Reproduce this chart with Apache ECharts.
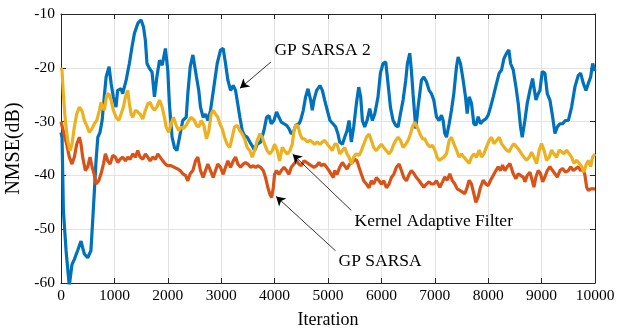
<!DOCTYPE html>
<html>
<head>
<meta charset="utf-8">
<script src="https://cdn.jsdelivr.net/npm/echarts@6/dist/echarts.min.js"></script>
<style>
  html, body { margin: 0; padding: 0; background: #fff; }
  #main { width: 627px; height: 329px; }
</style>
</head>
<body>
<div id="main"></div>
<script>
// values: [iteration, NMSE in dB]
var gpSarsa2 = [[0,-32],[20,-33],[45,-46.6],[95,-54],[155,-60.5],[205,-56.6],[250,-55.6],[310,-54],[375,-52.2],[405,-53.4],[437,-54.6],[500,-55.3],[560,-54],[590,-49],[625,-42.9],[656,-37.3],[690,-32.9],[730,-32],[770,-29.8],[810,-25.4],[845,-21.7],[900,-19.8],[940,-23],[980,-25.4],[1030,-27.3],[1060,-24.2],[1125,-23.9],[1155,-24.8],[1220,-22.3],[1280,-19.2],[1330,-16.1],[1375,-13.6],[1440,-11.7],[1500,-11.1],[1545,-12.4],[1580,-14.9],[1610,-19.2],[1655,-20.1],[1705,-20.8],[1750,-25.4],[1795,-21.7],[1845,-18.6],[1895,-19.5],[1955,-16.4],[2000,-20.5],[2030,-26.7],[2080,-32.9],[2125,-34.8],[2170,-35.4],[2220,-32.9],[2280,-29.8],[2345,-29.2],[2375,-24.8],[2420,-19.8],[2470,-17.6],[2537,-21.7],[2580,-24.2],[2612,-27.3],[2662,-29.2],[2706,-28.6],[2750,-29.8],[2800,-27.9],[2862,-23.6],[2925,-19.2],[2987,-16.7],[3037,-16.4],[3081,-19.2],[3125,-22.3],[3175,-24.2],[3225,-23.3],[3269,-24.2],[3300,-23.9],[3350,-29.2],[3394,-31.7],[3437,-32.6],[3487,-32.9],[3537,-33.8],[3581,-34.5],[3625,-35.4],[3675,-34.2],[3737,-33.8],[3800,-31.7],[3850,-29.2],[3894,-28.9],[3937,-30.4],[3987,-29.8],[4037,-28.2],[4081,-29.2],[4125,-30.1],[4175,-30.4],[4225,-30.7],[4269,-31.3],[4312,-32.3],[4362,-31.7],[4394,-30.7],[4456,-30.4],[4487,-29.8],[4537,-27.9],[4581,-25.4],[4625,-23.9],[4675,-26],[4706,-27.9],[4737,-26],[4787,-24.2],[4850,-23.3],[4894,-24.2],[4937,-26],[4987,-27.9],[5037,-29.8],[5094,-30.4],[5144,-31],[5187,-32.3],[5219,-33.8],[5270,-34.2],[5312,-32.9],[5356,-31.7],[5394,-29.8],[5437,-33.8],[5481,-31],[5531,-26.7],[5575,-23.6],[5612,-25.4],[5644,-29.8],[5687,-31],[5731,-29.8],[5781,-27.6],[5831,-29.8],[5875,-28.6],[5937,-25.4],[5981,-21],[6031,-19.2],[6081,-18.9],[6125,-23],[6169,-27.3],[6219,-29.8],[6269,-30.7],[6312,-31],[6356,-28.6],[6406,-26],[6456,-22.3],[6487,-19.2],[6531,-17.3],[6562,-20.5],[6594,-25],[6644,-31.3],[6687,-27.3],[6750,-22.3],[6794,-21.7],[6844,-22.6],[6894,-24.2],[6937,-24.8],[6981,-26],[7031,-29.1],[7081,-29.8],[7125,-28.8],[7156,-29.8],[7187,-32.2],[7219,-32.9],[7269,-30.4],[7312,-27.9],[7356,-24.8],[7406,-19.8],[7437,-18],[7481,-19.2],[7531,-22.3],[7575,-25.4],[7606,-28.5],[7644,-25.4],[7687,-26.6],[7731,-30.4],[7769,-30.7],[7812,-29.1],[7856,-30.4],[7906,-29.8],[7956,-29.5],[8000,-28.8],[8044,-27.3],[8094,-25.4],[8156,-22.9],[8206,-21],[8250,-20.4],[8294,-18.3],[8344,-17.3],[8387,-16.7],[8419,-19.2],[8469,-20.4],[8519,-23.5],[8562,-26.6],[8606,-31],[8637,-32.9],[8687,-29.8],[8731,-26.6],[8781,-24.2],[8831,-22],[8856,-22.3],[8894,-26],[8937,-24.8],[8969,-24.2],[9012,-20.7],[9062,-21],[9106,-24.8],[9156,-26],[9206,-29.1],[9250,-32.2],[9294,-31],[9344,-30.4],[9394,-30.4],[9444,-29.8],[9500,-29.8],[9562,-27.3],[9625,-23.5],[9687,-21.4],[9731,-21],[9781,-22.9],[9831,-24.2],[9875,-22.9],[9919,-21.7],[9956,-19.2],[10000,-20.6]];

var gpSarsa = [[0,-30],[19,-30.1],[56,-32.3],[106,-34.2],[156,-36.6],[206,-37.9],[250,-36.6],[294,-34.2],[344,-32.9],[375,-34.2],[406,-36.6],[456,-39.1],[500,-38.4],[544,-36.6],[581,-38.4],[619,-39.7],[656,-41.6],[706,-41],[750,-39.7],[794,-37.9],[831,-36],[875,-37.3],[919,-37.9],[969,-36.3],[1019,-36.6],[1062,-37.6],[1106,-37],[1156,-36.6],[1206,-37.3],[1250,-36.6],[1294,-37],[1344,-36],[1394,-36.6],[1437,-35.4],[1481,-36.6],[1531,-37],[1581,-36],[1625,-36.6],[1669,-37.3],[1719,-36.6],[1769,-37],[1812,-36],[1856,-36.6],[1906,-37.3],[1956,-37.9],[2000,-38.2],[2062,-38.2],[2125,-38.5],[2187,-38.8],[2231,-39.1],[2281,-39.7],[2331,-40],[2375,-41],[2419,-39.7],[2469,-39.1],[2519,-37.3],[2562,-36.6],[2612,-39.1],[2662,-40.4],[2706,-39.1],[2750,-37.9],[2800,-39.1],[2850,-40.4],[2894,-39.1],[2937,-37.9],[2987,-38.5],[3037,-39.8],[3081,-38.5],[3125,-37.3],[3175,-38.5],[3225,-37.3],[3269,-36.6],[3312,-37.9],[3362,-38.5],[3412,-37.9],[3456,-37.6],[3500,-37.9],[3550,-38.5],[3600,-38.2],[3644,-38.5],[3687,-38.2],[3737,-38.5],[3787,-39.1],[3831,-40.4],[3875,-42.3],[3912,-43.5],[3944,-44.1],[3975,-42.3],[4000,-39.8],[4037,-39.1],[4081,-39.8],[4125,-39.1],[4175,-38.5],[4225,-39.1],[4269,-39.8],[4312,-38.5],[4362,-37.9],[4412,-37.3],[4456,-37.9],[4500,-38.2],[4550,-37.3],[4600,-37.6],[4644,-37.9],[4687,-38.2],[4737,-38.5],[4787,-38.2],[4831,-37.6],[4875,-38.2],[4925,-37.9],[4975,-38.5],[5019,-39.1],[5062,-39.8],[5100,-40.4],[5125,-39.1],[5169,-39.8],[5219,-38.5],[5269,-37.6],[5312,-38.2],[5356,-38.8],[5406,-37.9],[5456,-37.6],[5500,-37],[5544,-37.3],[5581,-38.5],[5625,-39.8],[5669,-41],[5719,-41.6],[5769,-42.3],[5812,-41],[5856,-41.6],[5906,-40.4],[5956,-41],[6000,-41.6],[6044,-41],[6094,-42.3],[6144,-41.6],[6187,-40.4],[6231,-39.8],[6281,-38.5],[6331,-37.9],[6375,-39.1],[6419,-40.4],[6469,-41],[6519,-39.8],[6562,-39.1],[6606,-39.6],[6656,-40.4],[6706,-41],[6750,-41.6],[6794,-42.2],[6844,-41.6],[6894,-41.2],[6937,-41.6],[6981,-41.6],[7031,-41],[7094,-42.2],[7144,-41.2],[7187,-40.3],[7231,-40.9],[7281,-39.7],[7325,-40.9],[7375,-41.6],[7419,-42.5],[7469,-42.8],[7519,-43.1],[7562,-43.4],[7606,-42.2],[7644,-40.9],[7687,-41.6],[7731,-43.4],[7769,-45],[7812,-44],[7856,-42.2],[7906,-40.9],[7956,-41.6],[8000,-41.9],[8044,-40.9],[8094,-40],[8144,-39.1],[8187,-38.4],[8231,-39.1],[8269,-38.1],[8312,-39.1],[8356,-38.4],[8406,-37.8],[8437,-38.7],[8469,-39.7],[8519,-40.6],[8562,-39.7],[8606,-40],[8656,-40.3],[8687,-41.2],[8731,-40],[8781,-39.4],[8831,-41.2],[8856,-42.2],[8894,-40.3],[8937,-39.1],[8981,-39.7],[9019,-41.2],[9062,-40.3],[9106,-39.1],[9156,-38.4],[9206,-39.1],[9250,-39.7],[9294,-40.3],[9344,-39.1],[9394,-38.7],[9444,-39.4],[9500,-39.1],[9544,-38.4],[9594,-39.1],[9644,-38.7],[9687,-38.4],[9731,-39.1],[9781,-38.7],[9812,-40],[9844,-42.2],[9875,-42.8],[9919,-42.5],[9956,-42.2],[10000,-42.5]];

var kernelFilter = [[0,-20],[19,-20.5],[44,-24.8],[81,-29.8],[125,-33.5],[169,-35.4],[206,-34.2],[250,-31],[294,-28.6],[344,-27.3],[394,-28],[437,-29.8],[481,-30.7],[531,-32],[581,-31.3],[625,-30.4],[669,-29.8],[719,-27.9],[750,-26.4],[781,-27.3],[812,-27.9],[856,-25.1],[894,-24.8],[937,-26],[981,-27.9],[1031,-29.2],[1081,-29.8],[1125,-28.6],[1169,-27.3],[1206,-25.4],[1250,-24.2],[1281,-26.7],[1312,-28.6],[1344,-29.2],[1394,-27.9],[1437,-28.2],[1481,-28.6],[1531,-29.5],[1581,-27.9],[1625,-26.7],[1669,-26.4],[1706,-27.3],[1750,-27.9],[1794,-27.3],[1844,-26],[1894,-27.3],[1937,-29.2],[1969,-31],[2019,-32],[2062,-30.4],[2106,-29.2],[2156,-30.7],[2206,-31.7],[2250,-31],[2294,-31.3],[2344,-30.7],[2394,-29.8],[2437,-29.2],[2500,-29.8],[2537,-30.7],[2581,-31],[2625,-29.8],[2675,-30.7],[2725,-33.2],[2769,-31.7],[2812,-28.6],[2850,-27.9],[2894,-28.6],[2937,-29.2],[2975,-30.4],[3019,-31.3],[3062,-32.9],[3112,-34.2],[3162,-34.8],[3206,-32.9],[3250,-31],[3300,-30.7],[3350,-31.7],[3394,-32.3],[3437,-33.2],[3487,-34.8],[3537,-35.4],[3581,-36.6],[3625,-35.4],[3675,-33.5],[3725,-32.3],[3769,-32.9],[3812,-34.2],[3862,-35.4],[3912,-36],[3956,-35.4],[4000,-34.2],[4050,-35.4],[4094,-37.3],[4144,-34.8],[4187,-35.4],[4237,-36],[4287,-35.4],[4331,-34.2],[4362,-31.7],[4394,-30.7],[4437,-30.7],[4475,-32.3],[4519,-33.2],[4562,-33.2],[4612,-33.8],[4662,-33.5],[4706,-33.8],[4750,-34.2],[4800,-33.8],[4850,-34.2],[4894,-33.8],[4937,-33.5],[4987,-34.2],[5037,-34.8],[5081,-35.4],[5125,-34.2],[5169,-34.2],[5219,-36],[5269,-35.4],[5312,-34.8],[5356,-36],[5394,-36.6],[5437,-37.9],[5481,-36.6],[5531,-36],[5581,-36.3],[5625,-35.4],[5669,-34.2],[5719,-32.9],[5769,-32.3],[5812,-33.5],[5856,-34.8],[5906,-35.4],[5950,-34.8],[6000,-34.2],[6044,-34.8],[6094,-35.4],[6144,-36],[6187,-35.4],[6231,-34.2],[6269,-33.5],[6312,-32.9],[6356,-33.5],[6406,-34.8],[6456,-34.2],[6500,-33.5],[6544,-32.3],[6581,-31],[6625,-30.1],[6669,-31],[6719,-32.2],[6769,-33.2],[6812,-33.2],[6856,-34.1],[6906,-34.7],[6956,-34.4],[7000,-35.3],[7044,-36.6],[7081,-37.2],[7125,-36.9],[7169,-36.6],[7219,-36],[7269,-33.5],[7312,-32.9],[7356,-34.1],[7406,-35.3],[7456,-36.6],[7500,-36],[7544,-36.6],[7594,-37.2],[7644,-37.8],[7687,-36.6],[7731,-36],[7781,-36.6],[7831,-35.3],[7875,-36.6],[7919,-36],[7969,-34.7],[8019,-33.5],[8062,-32.9],[8106,-34.1],[8156,-33.5],[8206,-32.9],[8250,-34.1],[8294,-34.7],[8344,-35.3],[8394,-35.6],[8437,-34.7],[8481,-34.1],[8531,-34.7],[8581,-35.3],[8625,-36],[8669,-36.6],[8719,-37.2],[8769,-36.6],[8812,-35.7],[8856,-36.6],[8906,-37.8],[8956,-35.3],[9000,-34.1],[9044,-35.3],[9094,-37.2],[9144,-36.6],[9187,-35.3],[9231,-36],[9281,-36.6],[9331,-35.3],[9375,-35.6],[9419,-36],[9469,-35.3],[9519,-36],[9562,-36.6],[9606,-37.8],[9656,-37.2],[9706,-37.8],[9750,-38.4],[9794,-39.4],[9831,-38.1],[9875,-37.2],[9919,-38.4],[9956,-36.6],[10000,-36]];

// annotations: text, text anchor, arrow tail, arrow head (data coords)
var noteTexts = ['GP SARSA 2', 'Kernel Adaptive Filter', 'GP SARSA'];
var noteAt = [[3996,-16.7], [5497,-48.5], [5197,-56]];
var arrowFrom = [[3934,-18.9], [5435,-46.5], [5140,-54]];
var arrowTo = [[3352,-23.8], [4339,-36.05], [4028,-43.9]];

var font = 'Liberation Serif';
var axisColor = '#262626';
var gridColor = '#e3e3e3';
var lineW = 3.2;

var chart = echarts.init(document.getElementById('main'));

// top and right edges of the box, ticks only
function boxAxis(extra) {
    return Object.assign({
        type: 'value',
        axisLine: { show: true, onZero: false, lineStyle: { color: axisColor, width: 1 } },
        axisTick: { show: true, inside: true, length: 5, lineStyle: { color: axisColor } },
        axisLabel: { show: false },
        splitLine: { show: false }
    }, extra);
}

chart.setOption({
    animation: false,
    backgroundColor: '#fff',
    grid: { left: 61, right: 32, top: 14, bottom: 46, outerBoundsMode: 'none' },
    xAxis: [
        {
            type: 'value', min: 0, max: 10000, interval: 1000,
            name: 'Iteration', nameLocation: 'middle', nameGap: 28,
            nameTextStyle: { fontFamily: font, fontSize: 18, color: '#000' },
            axisLine: { show: true, onZero: false, lineStyle: { color: axisColor, width: 1 } },
            axisTick: { show: true, inside: true, length: 5, lineStyle: { color: axisColor } },
            axisLabel: { fontFamily: font, fontSize: 15.5, color: '#000', margin: 5,
                         formatter: function (v) { return String(v); } },
            splitLine: { show: true, lineStyle: { color: gridColor, width: 1 } }
        },
        boxAxis({ position: 'top', min: 0, max: 10000, interval: 1000 })
    ],
    yAxis: [
        {
            type: 'value', min: -60, max: -10, interval: 10,
            name: 'NMSE(dB)', nameLocation: 'middle', nameGap: 32,
            nameTextStyle: { fontFamily: font, fontSize: 20, color: '#000' },
            axisLine: { show: true, onZero: false, lineStyle: { color: axisColor, width: 1 } },
            axisTick: { show: true, inside: true, length: 5, lineStyle: { color: axisColor } },
            axisLabel: { fontFamily: font, fontSize: 15.5, color: '#000', margin: 6 },
            splitLine: { show: true, lineStyle: { color: gridColor, width: 1 } }
        },
        boxAxis({ position: 'right', min: -60, max: -10, interval: 10 })
    ],
    series: [
        {
            name: 'GP SARSA 2', type: 'line', data: gpSarsa2,
            showSymbol: false, symbol: 'none',
            lineStyle: { color: '#0072BD', width: lineW }
        },
        {
            name: 'GP SARSA', type: 'line', data: gpSarsa,
            showSymbol: false, symbol: 'none',
            lineStyle: { color: '#D95319', width: lineW }
        },
        {
            name: 'Kernel Adaptive Filter', type: 'line', data: kernelFilter,
            showSymbol: false, symbol: 'none',
            lineStyle: { color: '#EDB120', width: lineW },
            markLine: {
                silent: true,
                symbol: ['none', 'arrow'],
                symbolSize: [8, 9],
                lineStyle: { color: '#000', width: 0.8, type: 'solid' },
                label: { show: false },
                data: arrowFrom.map(function (p, i) {
                    return [{ coord: p }, { coord: arrowTo[i] }];
                })
            },
            markPoint: {
                silent: true,
                symbol: 'circle', symbolSize: 0,
                label: {
                    show: true, position: 'right', distance: 0,
                    fontFamily: font, fontSize: 17.5, color: '#000',
                    formatter: function (p) { return p.name; }
                },
                data: noteTexts.map(function (t, i) {
                    return { name: t, coord: noteAt[i] };
                })
            }
        }
    ]
});
</script>
</body>
</html>
